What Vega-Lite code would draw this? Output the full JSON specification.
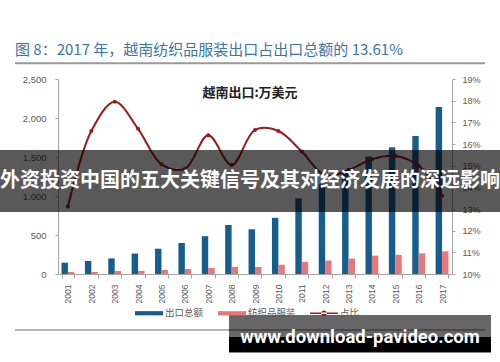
{
  "$schema": "https://vega.github.io/schema/vega-lite/v6.json",
  "width": 394,
  "height": 195,
  "autosize": {"type": "none"},
  "padding": {"left": 58, "top": 79, "right": 48, "bottom": 88},
  "background": "white",
  "config": {
    "view": {"stroke": null},
    "font": "Liberation Sans",
    "axis": {"labelFont": "Liberation Sans", "labelColor": "#595959", "domainColor": "#A6A6A6", "tickColor": "#A6A6A6", "grid": false}
  },
  "data": {
    "values": [
      {"year": "2001", "出口总额": 145, "纺织品服装": 26, "占比": 13.12},
      {"year": "2002", "出口总额": 168, "纺织品服装": 26, "占比": 16.6},
      {"year": "2003", "出口总额": 200, "纺织品服装": 38, "占比": 17.95},
      {"year": "2004", "出口总额": 262, "纺织品服装": 40, "占比": 16.7},
      {"year": "2005", "出口总额": 324, "纺织品服装": 51, "占比": 15.06},
      {"year": "2006", "出口总额": 398, "纺织品服装": 64, "占比": 14.85},
      {"year": "2007", "出口总额": 485, "纺织品服装": 78, "占比": 16.4},
      {"year": "2008", "出口总额": 628, "纺织品服装": 92, "占比": 15.03},
      {"year": "2009", "出口总额": 573, "纺织品服装": 90, "占比": 16.65},
      {"year": "2010", "出口总额": 720, "纺织品服装": 118, "占比": 16.6},
      {"year": "2011", "出口总额": 970, "纺织品服装": 155, "占比": 15.65},
      {"year": "2012", "出口总额": 1150, "纺织品服装": 172, "占比": 14.55},
      {"year": "2013", "出口总额": 1320, "纺织品服装": 198, "占比": 14.8},
      {"year": "2014", "出口总额": 1505, "纺织品服装": 235, "占比": 15.3},
      {"year": "2015", "出口总额": 1625, "纺织品服装": 245, "占比": 15.45},
      {"year": "2016", "出口总额": 1770, "纺织品服装": 265, "占比": 15.0},
      {"year": "2017", "出口总额": 2140, "纺织品服装": 291, "占比": 13.61}
    ]
  },
  "layer": [
    {
      "transform": [{"fold": ["出口总额", "纺织品服装"], "as": ["series", "value"]}],
      "mark": {"type": "bar"},
      "encoding": {
        "x": {
          "field": "year", "type": "ordinal",
          "scale": {"type": "band", "paddingInner": 0.45, "paddingOuter": 0.15},
          "axis": {"title": null, "labelAngle": 270, "labelFontSize": 8.5, "labelPadding": 6, "tickBand": "extent", "tickSize": 4}
        },
        "xOffset": {"field": "series", "type": "nominal", "scale": {"domain": ["出口总额", "纺织品服装"]}},
        "y": {
          "field": "value", "type": "quantitative",
          "scale": {"domain": [0, 2500], "nice": false},
          "axis": {"title": null, "values": [0, 500, 1000, 1500, 2000, 2500], "format": ",.0f", "labelFontSize": 9.5, "tickSize": 3, "labelPadding": 9}
        },
        "color": {
          "field": "series", "type": "nominal",
          "scale": {"domain": ["出口总额", "纺织品服装", "占比"], "range": ["#175D8D", "#E8777A", "#9E1A1F"]},
          "legend": {
            "orient": "none", "legendX": 77, "legendY": 220, "direction": "horizontal", "title": null,
            "symbolType": "M-1,-0.15H1V0.15H-1Z", "symbolSize": 784, "symbolStrokeWidth": 0,
            "labelFont": "Noto Sans CJK SC", "labelFontSize": 9.5, "labelColor": "#595959", "labelOffset": 2, "columnPadding": 14,
            "encode": {
              "symbols": {
                "update": {
                  "shape": {"signal": "datum.value === '占比' ? 'M-1,-0.06H1V0.06H-1Z M-0.2,0A0.2,0.2 0 1,0 0.2,0A0.2,0.2 0 1,0 -0.2,0Z' : 'M-1,-0.15H1V0.15H-1Z'"},
                  "fill": {"signal": "scale('color', datum.value)"},
                  "strokeWidth": {"value": 0}
                }
              }
            }
          }
        }
      }
    },
    {
      "mark": {"type": "line", "interpolate": "catmull-rom", "strokeWidth": 2, "point": {"filled": true, "size": 16}},
      "encoding": {
        "x": {
          "field": "year", "type": "ordinal", "bandPosition": 0.5,
          "scale": {"type": "band", "paddingInner": 0.45, "paddingOuter": 0.15},
          "axis": null
        },
        "y": {
          "field": "占比", "type": "quantitative",
          "scale": {"domain": [10, 19], "nice": false, "zero": false},
          "axis": {"orient": "right", "title": null, "values": [10, 11, 12, 13, 14, 15, 16, 17, 18, 19], "labelExpr": "datum.value + '%'", "labelFontSize": 9, "tickSize": 3, "labelPadding": 7}
        },
        "color": {"datum": "占比"}
      }
    },
    {
      "data": {"values": [{}]},
      "layer": [
        {
          "mark": {"type": "text", "text": "图 8：2017 年，越南纺织品服装出口占出口总额的 13.61%", "align": "left", "baseline": "middle", "font": "Noto Sans CJK SC", "fontSize": 15, "color": "#3A76A6"},
          "encoding": {
            "x": {"datum": 1998.736, "type": "quantitative", "scale": {"domain": [2000.575, 2017.425], "nice": false, "zero": false}, "axis": null},
            "y": {"datum": 20.36, "type": "quantitative", "scale": {"domain": [10, 19], "nice": false, "zero": false}, "axis": null}
          }
        },
        {
          "mark": {"type": "rule", "color": "#9A9A9A", "strokeWidth": 2},
          "encoding": {
            "x": {"datum": 1998.736, "type": "quantitative"},
            "x2": {"datum": 2018.836},
            "y": {"datum": 19.725, "type": "quantitative"}
          }
        },
        {
          "mark": {"type": "rule", "color": "#9A9A9A", "strokeWidth": 1.5},
          "encoding": {
            "x": {"datum": 1998.736, "type": "quantitative"},
            "x2": {"datum": 2018.836},
            "y": {"datum": 7.416, "type": "quantitative"}
          }
        },
        {
          "mark": {"type": "text", "text": "越南出口:万美元", "align": "center", "baseline": "middle", "font": "Noto Sans CJK SC", "fontWeight": "bold", "fontSize": 13, "color": "#222222"},
          "encoding": {
            "x": {"datum": 2008.786, "type": "quantitative"},
            "y": {"datum": 18.354, "type": "quantitative"}
          }
        },
        {
          "mark": {"type": "rect", "color": "black", "opacity": 0.65},
          "encoding": {
            "x": {"datum": 1998.0, "type": "quantitative"},
            "x2": {"datum": 2019.6},
            "y": {"datum": 15.723, "type": "quantitative"},
            "y2": {"datum": 12.862}
          }
        },
        {
          "mark": {"type": "text", "text": "外资投资中国的五大关键信号及其对经济发展的深远影响", "align": "center", "baseline": "middle", "font": "Noto Sans CJK SC", "fontWeight": "bold", "fontSize": 20, "color": "white"},
          "encoding": {
            "x": {"datum": 2008.786, "type": "quantitative"},
            "y": {"datum": 14.292, "type": "quantitative"}
          }
        },
        {
          "mark": {"type": "rect", "color": "black", "opacity": 0.6},
          "encoding": {
            "x": {"datum": 2007.888, "type": "quantitative"},
            "x2": {"datum": 2019.093},
            "y": {"datum": 8.108, "type": "quantitative"},
            "y2": {"datum": 7.1}
          }
        },
        {
          "mark": {"type": "rect", "color": "black", "opacity": 1},
          "encoding": {
            "x": {"datum": 2007.888, "type": "quantitative"},
            "x2": {"datum": 2019.093},
            "y": {"datum": 7.1, "type": "quantitative"},
            "y2": {"datum": 6.38}
          }
        },
        {
          "mark": {"type": "text", "text": "www.download-pavideo.com", "align": "center", "baseline": "alphabetic", "font": "Roboto", "fontWeight": "bold", "fontSize": 18.5, "color": "white"},
          "encoding": {
            "x": {"datum": 2013.49, "type": "quantitative"},
            "y": {"datum": 6.816, "type": "quantitative"}
          }
        }
      ]
    }
  ],
  "resolve": {"scale": {"x": "independent", "y": "independent"}}
}
